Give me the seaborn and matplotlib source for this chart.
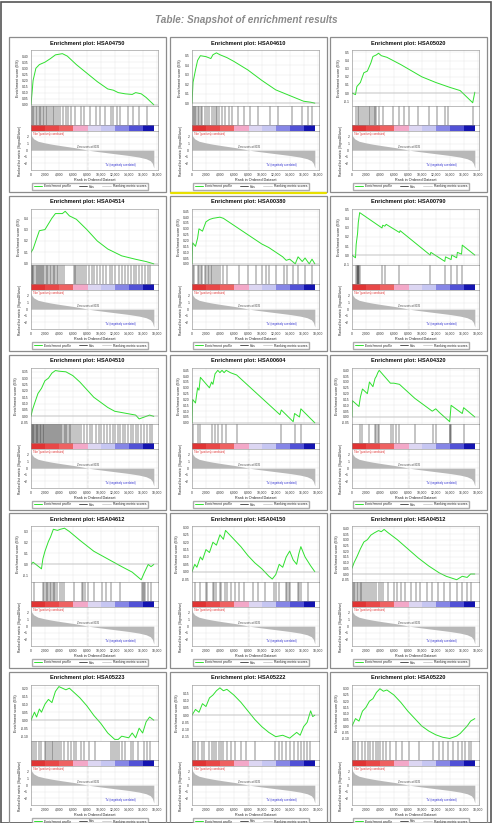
import numpy as np
import pandas as pd
import matplotlib
matplotlib.use('Agg')
import matplotlib.pyplot as plt
import seaborn as sns
from matplotlib.patches import Rectangle
from matplotlib.lines import Line2D

sns.set_style('white')
plt.rcParams['font.family'] = ['Liberation Sans', 'DejaVu Sans']

W, H = 492, 823
N_GENES = 17600
X_MAX = 18200

# ---- data -------------------------------------------------------------
x_ticks = [0, 2000, 4000, 6000, 8000, 10000, 12000, 14000, 16000, 18000]

# ranked list metric (same for every panel)
metric_rank = [0, 100, 400, 1000, 2000, 3000, 4500, 6000, 7200, 8200, 9500, 11000, 12500, 14000, 15500, 16500, 17100, 17400, 17600]
metric_value = [2.6, 2.1, 1.7, 1.35, 1.1, 0.9, 0.65, 0.42, 0.2, 0.0, -0.2, -0.4, -0.6, -0.8, -1.05, -1.3, -1.6, -2.0, -2.7]
zero_cross = 8195

# colour bar blocks under the hits
bar_edges = [0, 2000, 4000, 6000, 8200, 10000, 12000, 14000, 16000, 17600]
bar_colors = ['#e03434', '#e84848', '#ee6262', '#f3a8c8', '#dcd6f2', '#c6c6f2', '#8686e6', '#5252d6', '#1414b0']

names = ['HSA04750', 'HSA04610', 'HSA05020', 'HSA04514', 'HSA00380', 'HSA00790',
         'HSA04510', 'HSA00604', 'HSA04320', 'HSA04612', 'HSA04150', 'HSA04512',
         'HSA05223', 'HSA05222', 'HSA05220']

hsa04750_rank = [0, 300, 700, 1200, 2000, 2800, 3500, 4500, 5200, 6500, 8000, 9500, 11000, 11800, 12500, 13500, 14500, 15000, 15800, 16500, 17600]
hsa04750_es = [0, 0.2, 0.3, 0.33, 0.35, 0.38, 0.41, 0.42, 0.40, 0.33, 0.26, 0.19, 0.13, 0.12, 0.10, 0.09, 0.085, 0.10, 0.09, 0.06, 0.0]
hsa04750_hits = [150, 300, 500, 700, 900, 1100, 1300, 1500, 1700, 1900, 2100, 2300, 2600, 2800, 3100, 3300, 3600, 3900, 4200, 4600, 5000, 5300, 5800, 6300, 7100, 7600, 8500, 9300, 9900, 10600, 11500, 11800, 12300, 12800, 13900, 14600, 15500, 16600]
hsa04750_yticks = [0, 0.05, 0.10, 0.15, 0.20, 0.25, 0.30, 0.35, 0.40]
hsa04750_ylim = (-0.01, 0.45)

hsa04610_rank = [0, 150, 500, 800, 1200, 2000, 2700, 3000, 3500, 4000, 5000, 6000, 8000, 10000, 12000, 14000, 16000, 17000, 17600]
hsa04610_es = [0, 0.22, 0.35, 0.45, 0.50, 0.49, 0.47, 0.51, 0.53, 0.51, 0.48, 0.44, 0.35, 0.24, 0.14, 0.08, 0.02, 0.01, 0.0]
hsa04610_hits = [100, 250, 400, 600, 800, 1000, 1300, 1500, 1800, 2100, 2500, 2800, 3200, 3400, 3600, 3800, 4300, 4700, 5300, 5800, 6600, 7500, 8300, 9500, 11200, 12300, 14400, 15800, 16600, 17200]
hsa04610_yticks = [0, 0.1, 0.2, 0.3, 0.4, 0.5]
hsa04610_ylim = (-0.03, 0.56)

hsa05020_rank = [0, 500, 700, 1200, 1700, 2200, 2700, 3000, 3500, 3800, 4200, 5000, 7000, 10000, 12000, 14000, 15500, 17300, 17600]
hsa05020_es = [0, -0.02, 0.08, 0.13, 0.25, 0.27, 0.37, 0.45, 0.47, 0.49, 0.46, 0.44, 0.35, 0.20, 0.13, 0.07, 0.03, -0.12, 0.01]
hsa05020_hits = [600, 800, 1000, 1300, 1600, 1800, 2200, 2400, 2600, 2900, 3100, 3300, 3500, 3800, 4400, 5900, 6700, 7500, 8200, 9500, 11100, 12200, 13300, 13800, 17300]
hsa05020_yticks = [-0.1, 0, 0.1, 0.2, 0.3, 0.4, 0.5]
hsa05020_ylim = (-0.16, 0.53)

hsa04514_rank = [0, 300, 800, 1200, 2000, 2500, 3000, 3500, 4500, 4900, 5500, 6500, 8000, 9500, 11000, 13000, 15000, 16500, 17600]
hsa04514_es = [0.1, 0.13, 0.22, 0.29, 0.30, 0.35, 0.40, 0.44, 0.44, 0.46, 0.42, 0.39, 0.30, 0.20, 0.13, 0.07, 0.04, 0.02, 0.0]
hsa04514_hits = [100, 200, 350, 500, 650, 800, 950, 1100, 1250, 1400, 1550, 1700, 1900, 2100, 2300, 2500, 2700, 2900, 3100, 3300, 3500, 3700, 3900, 4200, 4500, 4800, 6100, 6300, 6500, 6800, 7000, 7300, 7600, 7900, 8300, 8700, 9100, 9500, 9900, 10300, 10800, 11300, 11600, 12100, 12600, 13100, 13500, 13900, 14300, 14700, 15100, 15500, 15900, 16300, 16700, 17100]
hsa04514_yticks = [0, 0.1, 0.2, 0.3, 0.4]
hsa04514_ylim = (-0.01, 0.48)

hsa00380_rank = [0, 100, 500, 800, 1000, 1500, 2000, 2500, 3000, 4000, 4500, 5500, 7000, 9000, 10000, 11000, 12000, 13000, 13500, 14000, 14800, 15200, 15800, 16200, 16800, 17200, 17600]
hsa00380_es = [0, 0.18, 0.15, 0.22, 0.30, 0.28, 0.36, 0.38, 0.39, 0.40, 0.39, 0.35, 0.29, 0.21, 0.17, 0.14, 0.10, 0.06, 0.03, 0.04, 0.0, 0.06, 0.02, 0.05, 0.0, 0.04, 0.0]
hsa00380_hits = [100, 300, 800, 1000, 1300, 1500, 1800, 2000, 2300, 2500, 2700, 2900, 3100, 3400, 3700, 4000, 4400, 5000, 6700, 8000, 9200, 10000, 10600, 11100, 12000, 13200, 13600, 14500, 15200, 16200, 17200]
hsa00380_yticks = [0, 0.05, 0.10, 0.15, 0.20, 0.25, 0.30, 0.35, 0.40, 0.45]
hsa00380_ylim = (-0.01, 0.47)

hsa00790_rank = [0, 500, 600, 800, 900, 1100, 4300, 4400, 4700, 4900, 6800, 6900, 11200, 11300, 13300, 13400, 14200, 14300, 15000, 15100, 15700, 15800, 17600]
hsa00790_es = [0, -0.03, 0.12, 0.24, 0.36, 0.47, 0.30, 0.33, 0.32, 0.34, 0.25, 0.27, 0.0, 0.03, -0.07, -0.02, -0.05, 0.0, -0.03, 0.03, 0.01, 0.11, 0.0]
hsa00790_hits = [600, 700, 800, 850, 900, 1000, 1100, 4300, 4800, 6800, 11200, 13300, 14200, 15000, 15800]
hsa00790_yticks = [-0.1, 0, 0.1, 0.2, 0.3, 0.4, 0.5]
hsa00790_ylim = (-0.11, 0.51)

hsa04510_rank = [0, 200, 500, 1000, 1500, 2000, 2500, 3000, 3500, 4000, 5000, 6000, 7000, 8000, 9000, 10000, 11000, 12000, 13000, 14000, 15000, 15500, 16500, 17000, 17600]
hsa04510_es = [0, 0.05, 0.10, 0.18, 0.22, 0.28, 0.30, 0.34, 0.36, 0.355, 0.35, 0.32, 0.27, 0.21, 0.15, 0.11, 0.07, 0.04, 0.03, 0.02, 0.01, -0.02, 0.0, 0.01, 0.0]
hsa04510_hits = [50, 150, 250, 350, 450, 550, 650, 800, 900, 1000, 1150, 1250, 1400, 1500, 1650, 1750, 1900, 2000, 2150, 2300, 2400, 2550, 2700, 2800, 2950, 3100, 3250, 3400, 3550, 3700, 3850, 4000, 4200, 4350, 4500, 4700, 4850, 5000, 5200, 5400, 5600, 5800, 6000, 6300, 6600, 6900, 7200, 7600, 8000, 8400, 8800, 9300, 9700, 10100, 10500, 10900, 11300, 11700, 12100, 12400, 12800, 13200, 13500, 13900, 14300, 14600, 15000, 15400, 15800, 16200, 16600, 17000, 17400]
hsa04510_yticks = [-0.05, 0, 0.05, 0.10, 0.15, 0.20, 0.25, 0.30, 0.35]
hsa04510_ylim = (-0.06, 0.38)

hsa00604_rank = [0, 100, 500, 800, 1000, 1200, 2500, 2800, 3000, 3300, 3700, 4000, 4300, 4600, 4900, 5500, 6400, 12600, 12800, 14500, 14700, 15400, 15600, 17600]
hsa00604_es = [0, 0.20, 0.17, 0.30, 0.28, 0.39, 0.30, 0.35, 0.33, 0.42, 0.45, 0.43, 0.45, 0.43, 0.45, 0.43, 0.41, 0.07, 0.11, 0.01, 0.08, 0.05, 0.12, 0.0]
hsa00604_hits = [100, 800, 1200, 2800, 3300, 3700, 4300, 4900, 6400, 12800, 14700, 15600]
hsa00604_yticks = [0, 0.05, 0.10, 0.15, 0.20, 0.25, 0.30, 0.35, 0.40, 0.45]
hsa00604_ylim = (-0.01, 0.47)

hsa04320_rank = [0, 50, 1000, 1200, 1500, 2200, 2500, 3000, 3300, 3500, 3700, 3900, 5500, 6000, 6800, 9000, 11500, 12000, 12500, 14000, 14200, 15800, 16000, 17600]
hsa04320_es = [0, 0.14, 0.09, 0.17, 0.24, 0.20, 0.30, 0.26, 0.33, 0.35, 0.38, 0.40, 0.29, 0.29, 0.28, 0.16, 0.05, 0.07, 0.04, -0.04, 0.10, 0.03, 0.08, 0.0]
hsa04320_hits = [50, 1200, 1500, 2500, 3300, 3500, 3700, 3900, 5600, 5900, 6300, 6800, 9000, 11600, 12100, 14000, 14100, 14200, 16000]
hsa04320_yticks = [-0.05, 0, 0.05, 0.10, 0.15, 0.20, 0.25, 0.30, 0.35, 0.40]
hsa04320_ylim = (-0.06, 0.42)

hsa04612_rank = [0, 300, 1500, 1700, 2000, 2500, 2800, 3200, 3800, 4200, 4800, 5500, 7000, 9000, 11000, 13000, 14500, 15800, 16200, 16800, 17200, 17600]
hsa04612_es = [0, 0.02, -0.04, 0.05, 0.12, 0.21, 0.25, 0.32, 0.31, 0.32, 0.33, 0.30, 0.22, 0.12, 0.05, -0.02, -0.07, -0.14, -0.08, 0.0, -0.02, 0.0]
hsa04612_hits = [400, 1700, 1900, 2100, 2300, 2500, 2700, 2900, 3100, 3300, 3500, 3700, 4100, 4500, 4800, 6100, 7300, 7500, 7800, 8100, 9100, 10200, 10700, 11500, 12800, 15900, 16000, 16200, 16400, 16800, 17200]
hsa04612_yticks = [-0.1, 0, 0.1, 0.2, 0.3]
hsa04612_ylim = (-0.16, 0.35)

hsa04150_rank = [0, 400, 700, 1200, 1500, 2000, 2500, 3000, 3500, 4000, 4500, 4800, 5200, 6000, 7000, 8000, 9000, 10000, 11000, 11500, 12000, 12500, 13000, 13500, 14000, 14500, 15000, 15300, 15600, 16200, 17000, 17600]
hsa04150_es = [0, 0.05, 0.03, 0.10, 0.08, 0.15, 0.13, 0.20, 0.18, 0.25, 0.22, 0.28, 0.26, 0.22, 0.17, 0.11, 0.06, 0.02, -0.03, -0.05, -0.02, 0.05, 0.03, 0.10, 0.14, 0.08, 0.05, 0.12, 0.17, 0.10, 0.04, 0.0]
hsa04150_hits = [400, 1200, 2000, 2200, 3000, 3200, 3400, 4000, 4200, 4800, 5000, 5600, 6200, 6800, 7400, 8800, 9500, 10500, 11800, 12100, 12500, 13400, 13600, 13900, 14100, 15200, 15400, 15600, 16600]
hsa04150_yticks = [-0.05, 0, 0.05, 0.10, 0.15, 0.20, 0.25, 0.30]
hsa04150_ylim = (-0.07, 0.31)

hsa04512_rank = [0, 300, 700, 1200, 1700, 2200, 2700, 3200, 3800, 4200, 4600, 5200, 6500, 8000, 9500, 11000, 12500, 13500, 14500, 15000, 15800, 16500, 17000, 17600]
hsa04512_es = [0.05, 0.10, 0.15, 0.22, 0.28, 0.30, 0.34, 0.36, 0.38, 0.37, 0.39, 0.36, 0.30, 0.22, 0.14, 0.07, 0.01, -0.02, -0.04, -0.05, -0.02, -0.03, 0.0, 0.0]
hsa04512_hits = [100, 300, 500, 700, 900, 1100, 1300, 1500, 1700, 2000, 2300, 2600, 2900, 3200, 3500, 3800, 4100, 4500, 5200, 6000, 6400, 7000, 7600, 8400, 9100, 9800, 10700, 11500, 12300, 13200, 14100, 15100, 15800, 16500, 17100]
hsa04512_yticks = [-0.05, 0, 0.05, 0.10, 0.15, 0.20, 0.25, 0.30, 0.35, 0.40]
hsa04512_ylim = (-0.07, 0.42)

hsa05223_rank = [0, 500, 800, 1200, 1500, 2000, 2500, 3000, 3500, 4000, 4500, 5000, 5500, 6000, 7000, 8000, 9000, 10000, 11000, 12000, 12500, 13000, 14000, 14500, 15000, 15500, 16000, 16500, 17000, 17600]
hsa05223_es = [0, 0.05, 0.02, 0.07, 0.05, 0.10, 0.13, 0.11, 0.18, 0.21, 0.20, 0.19, 0.20, 0.18, 0.14, 0.09, 0.03, -0.02, -0.08, -0.12, -0.12, -0.10, -0.11, -0.08, -0.11, -0.05, -0.08, -0.01, 0.02, 0.0]
hsa05223_hits = [200, 500, 700, 1200, 1400, 2000, 2200, 2500, 2700, 3000, 3200, 3500, 3700, 4000, 4300, 4700, 5300, 5700, 6100, 6400, 7100, 7600, 8300, 9200, 11500, 11800, 12100, 12300, 12600, 13000, 13400, 14300, 14600, 15400, 16200, 16600, 17000]
hsa05223_yticks = [-0.10, -0.05, 0, 0.05, 0.10, 0.15, 0.20]
hsa05223_ylim = (-0.13, 0.22)

hsa05222_rank = [0, 500, 1000, 1500, 2000, 2500, 3000, 3500, 4000, 4500, 5000, 6000, 7000, 8000, 9000, 10000, 11000, 12000, 13000, 14000, 15000, 15500, 16000, 16500, 17000, 17300, 17600]
hsa05222_es = [0, 0.04, 0.02, 0.08, 0.06, 0.12, 0.14, 0.17, 0.19, 0.17, 0.18, 0.14, 0.09, 0.03, -0.03, -0.08, -0.12, -0.15, -0.14, -0.16, -0.12, -0.14, -0.08, -0.05, 0.03, -0.01, 0.0]
hsa05222_hits = [200, 500, 900, 1500, 1700, 2500, 2800, 3100, 3500, 3800, 4100, 4500, 5000, 5600, 6200, 7000, 7800, 9000, 11900, 12400, 12900, 13500, 14100, 14600, 15200, 15600, 16100, 16500, 16900]
hsa05222_yticks = [-0.15, -0.10, -0.05, 0, 0.05, 0.10, 0.15]
hsa05222_ylim = (-0.18, 0.21)

hsa05220_rank = [0, 500, 1000, 1500, 2000, 2500, 3000, 3500, 4000, 4500, 5000, 6000, 7000, 8000, 9000, 10000, 11000, 12000, 13000, 14000, 15000, 15500, 16000, 16500, 17000, 17600]
hsa05220_es = [0, 0.06, 0.04, 0.12, 0.15, 0.20, 0.22, 0.27, 0.30, 0.28, 0.29, 0.25, 0.19, 0.12, 0.06, 0.0, -0.04, -0.07, -0.09, -0.10, -0.08, -0.06, -0.03, 0.0, 0.04, 0.06]
hsa05220_hits = [200, 500, 900, 1500, 1800, 2300, 2600, 3000, 3400, 3700, 4000, 4400, 4900, 5500, 6300, 7100, 8200, 9600, 11600, 12400, 13100, 13800, 14500, 15200, 15700, 16200, 16700, 17100]
hsa05220_yticks = [-0.10, -0.05, 0, 0.05, 0.10, 0.15, 0.20, 0.25, 0.30]
hsa05220_ylim = (-0.12, 0.33)

panels = [
    (hsa04750_rank, hsa04750_es, hsa04750_hits, hsa04750_yticks, hsa04750_ylim),
    (hsa04610_rank, hsa04610_es, hsa04610_hits, hsa04610_yticks, hsa04610_ylim),
    (hsa05020_rank, hsa05020_es, hsa05020_hits, hsa05020_yticks, hsa05020_ylim),
    (hsa04514_rank, hsa04514_es, hsa04514_hits, hsa04514_yticks, hsa04514_ylim),
    (hsa00380_rank, hsa00380_es, hsa00380_hits, hsa00380_yticks, hsa00380_ylim),
    (hsa00790_rank, hsa00790_es, hsa00790_hits, hsa00790_yticks, hsa00790_ylim),
    (hsa04510_rank, hsa04510_es, hsa04510_hits, hsa04510_yticks, hsa04510_ylim),
    (hsa00604_rank, hsa00604_es, hsa00604_hits, hsa00604_yticks, hsa00604_ylim),
    (hsa04320_rank, hsa04320_es, hsa04320_hits, hsa04320_yticks, hsa04320_ylim),
    (hsa04612_rank, hsa04612_es, hsa04612_hits, hsa04612_yticks, hsa04612_ylim),
    (hsa04150_rank, hsa04150_es, hsa04150_hits, hsa04150_yticks, hsa04150_ylim),
    (hsa04512_rank, hsa04512_es, hsa04512_hits, hsa04512_yticks, hsa04512_ylim),
    (hsa05223_rank, hsa05223_es, hsa05223_hits, hsa05223_yticks, hsa05223_ylim),
    (hsa05222_rank, hsa05222_es, hsa05222_hits, hsa05222_yticks, hsa05222_ylim),
    (hsa05220_rank, hsa05220_es, hsa05220_hits, hsa05220_yticks, hsa05220_ylim),
]

# ---- layout (pixels) ---------------------------------------------------
col_x = [9, 170, 330]
row_y = [37, 196, 355, 513, 672]
PW, PH = 157, 155
GREEN = '#2fe02f'
FRAME = '#8c8c8c'
TICK_FS = 2.4
LABEL_FS = 2.7


def px_axes(fig, x, y, w, h):
    return fig.add_axes([x / W, 1 - (y + h) / H, w / W, h / H])


def fmt_tick(v, step):
    if step >= 0.1 - 1e-9:
        return f"{v:.1f}"
    return f"{v:.2f}"


def style_spines(ax):
    for s in ax.spines.values():
        s.set_color('#8a8a8a')
        s.set_linewidth(0.4)
    ax.tick_params(length=1, width=0.3, pad=1, labelsize=TICK_FS, colors='#333333')


def draw_panel(fig, px0, py0, name, rank, es, hits, yticks, ylim):
    fig.patches.append(Rectangle((px0 / W, 1 - (py0 + PH) / H), PW / W, PH / H,
                                 fill=False, ec=FRAME, lw=0.9, transform=fig.transFigure))
    fig.text((px0 + PW / 2) / W, 1 - (py0 + 6) / H, f"Enrichment plot: {name}",
             ha='center', va='center', fontsize=4.1, weight='bold', color='#111111')

    ax0 = px0 + 22
    aw = 127

    # enrichment score
    ax_es = px_axes(fig, ax0, py0 + 13, aw, 56)
    df = pd.DataFrame({'rank': rank, 'es': es})
    sns.lineplot(data=df, x='rank', y='es', ax=ax_es, color=GREEN, lw=0.7, sort=False)
    ax_es.axhline(0, color='#9a9a9a', lw=0.35)
    ax_es.set_xlim(0, X_MAX)
    ax_es.set_ylim(*ylim)
    ax_es.set_xticks(x_ticks)
    ax_es.set_xticklabels([])
    ax_es.set_yticks(yticks)
    step = yticks[1] - yticks[0]
    ax_es.set_yticklabels([fmt_tick(v, step) for v in yticks])
    ax_es.grid(True, color='#e4e4e4', lw=0.3)
    ax_es.set_xlabel('')
    ax_es.set_ylabel('Enrichment score (ES)', fontsize=LABEL_FS, labelpad=1.5)
    style_spines(ax_es)

    # hits
    ax_hit = px_axes(fig, ax0, py0 + 69, aw, 19)
    ax_hit.vlines(hits, 0, 1, color='#111111', lw=0.35)
    ax_hit.set_xlim(0, X_MAX)
    ax_hit.set_ylim(0, 1)
    ax_hit.set_xticks([])
    ax_hit.set_yticks([])
    style_spines(ax_hit)

    # colour bar
    ax_bar = px_axes(fig, ax0, py0 + 88, aw, 6)
    for i, c in enumerate(bar_colors):
        ax_bar.axvspan(bar_edges[i], bar_edges[i + 1], color=c, lw=0)
    ax_bar.set_xlim(0, X_MAX)
    ax_bar.set_xticks([])
    ax_bar.set_yticks([])
    style_spines(ax_bar)

    # ranked list metric
    ax_m = px_axes(fig, ax0, py0 + 94, aw, 39)
    ax_m.fill_between(metric_rank, metric_value, 0, color='#b8b8b8', lw=0)
    ax_m.axvline(zero_cross, color='#9a9a9a', lw=0.35, ls=':')
    ax_m.set_xlim(0, X_MAX)
    ax_m.set_ylim(-3.0, 2.9)
    ax_m.set_yticks([2, 1, 0, -1, -2])
    ax_m.set_xticks(x_ticks)
    ax_m.set_xticklabels([f"{v:,}" for v in x_ticks])
    ax_m.grid(True, color='#e4e4e4', lw=0.3)
    ax_m.text(zero_cross, 0.15, f"Zero cross at {zero_cross}", fontsize=1.9, ha='center', va='bottom', color='#444444')
    ax_m.text(300, 2.7, "'Nor' (positively correlated)", fontsize=1.9, ha='left', va='top', color='#e03030')
    ax_m.text(12800, -2.25, "'Tu' (negatively correlated)", fontsize=1.9, ha='center', va='center', color='#3030d0')
    ax_m.set_xlabel('Rank in Ordered Dataset', fontsize=LABEL_FS, labelpad=1)
    ax_m.set_ylabel('Ranked list metric (Signal2Noise)', fontsize=LABEL_FS * 0.9, labelpad=1.5)
    style_spines(ax_m)

    handles = [Line2D([], [], color=GREEN, lw=0.7),
               Line2D([], [], color='#111111', lw=0.5),
               Line2D([], [], color='#c0c0c0', lw=0.5)]
    fig.legend(handles, ['Enrichment profile', 'Hits', 'Ranking metric scores'],
               loc='center', bbox_to_anchor=((px0 + 81) / W, 1 - (py0 + 149.5) / H),
               ncol=3, fontsize=2.4, frameon=True, fancybox=False, edgecolor='#999999',
               handlelength=2.5, columnspacing=2.2, borderpad=0.5, handletextpad=0.6)


fig = plt.figure(figsize=(W / 100, H / 100), dpi=100)
fig.patch.set_facecolor('white')
fig.patches.append(Rectangle((0.002, 0.0), 0.996, 0.998, fill=False, ec='#555555', lw=1.2,
                             transform=fig.transFigure))
fig.text(0.5, 1 - 20 / H, 'Table: Snapshot of enrichment results', ha='center', va='center',
         fontsize=7.2, style='italic', weight='bold', color='#8a8a8a')

for i, name in enumerate(names):
    r, c = divmod(i, 3)
    rank, es, hits, yticks, ylim = panels[i]
    draw_panel(fig, col_x[c], row_y[r], name, rank, es, hits, yticks, ylim)

# yellow highlight under the second panel
fig.add_artist(Line2D([(col_x[1] + 1) / W, (col_x[1] + PW - 1) / W],
                      [1 - (row_y[0] + PH + 1) / H] * 2, color='#e8e000', lw=1.6,
                      transform=fig.transFigure))

fig.savefig('out.png', dpi=100)
